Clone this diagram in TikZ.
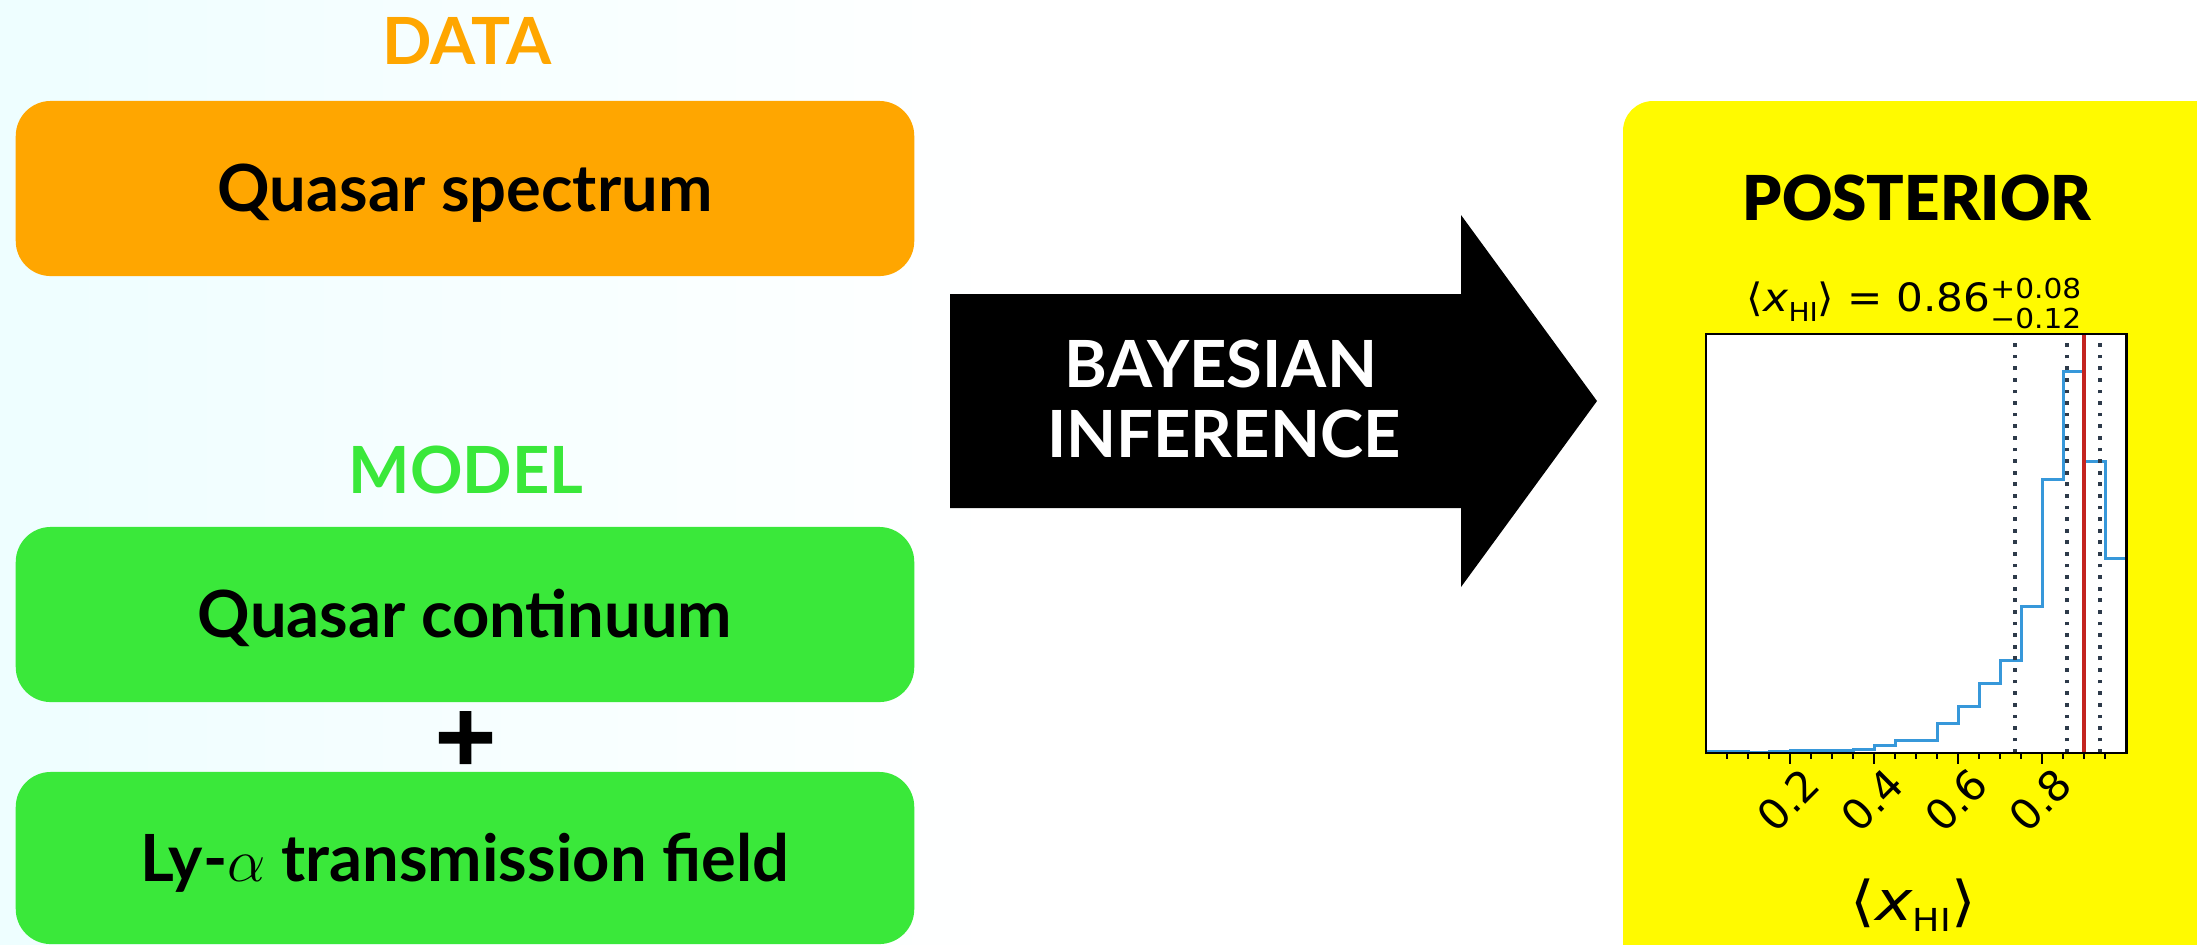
\documentclass[tikz,border=0pt]{standalone}
\usepackage{fontspec}
\setmainfont{Lato}
\newfontfamily\dvs{DejaVu Sans}
\newfontfamily\plusfont{DejaVu Sans Bold}[FakeBold=3]
\newfontfamily\latoblack{Lato Black}

\definecolor{dataorange}{RGB}{255,166,0}
\definecolor{modelgreen}{RGB}{58,232,58}
\definecolor{postyellow}{RGB}{255,250,0}
\definecolor{bgcyan}{RGB}{238,254,255}
\definecolor{histblue}{RGB}{55,152,218}
\definecolor{truered}{RGB}{196,36,31}
\definecolor{quantgray}{RGB}{45,58,74}

\tikzset{
  panel/.style={rounded corners=0.35cm, minimum width=8.98cm, minimum height=1.75cm,
    inner sep=0pt, text height=0.466cm, text depth=0pt,
    font=\fontsize{18.5}{22}\selectfont\bfseries},
  heading/.style={inner sep=0pt, anchor=base, font=\fontsize{18.5}{22}\selectfont\bfseries},
  ticklab/.style={inner sep=0pt, rotate=45, font=\dvs\fontsize{12}{14}\selectfont},
  quantile/.style={quantgray, line width=1.05pt, dash pattern=on 1.05pt off 2.25pt},
}

\begin{document}
\begin{tikzpicture}[x=0.01cm, y=-0.01cm]
\useasboundingbox (0,0) rectangle (2197,944);
\clip (0,0) rectangle (2197,944);

% background
\fill[white] (0,0) rectangle (2197,944);
\shade[left color=bgcyan, right color=white] (0,0) rectangle (1000,944);

% data and model inputs
\node[heading, text=dataorange] (datahead) at (467,64) {DATA};
\node[panel, fill=dataorange] (spec) at (465,188.5) {Quasar spectrum};
\node[heading, text=modelgreen] (modelhead) at (466,493) {MODEL};
\node[panel, fill=modelgreen] (cont) at (465,614.5) {Quasar continuum};
\node[inner sep=0pt, anchor=base, font=\plusfont\fontsize{23}{26}\selectfont] (plus) at (465.5,763) {+};
\node[panel, fill=modelgreen, minimum height=1.72cm] (lya) at (465,858) {Ly-$\alpha$ transmission field};

% inference arrow
\fill[black] (950,294) -- (1461,294) -- (1461,215) -- (1597,401) -- (1461,587) -- (1461,508) -- (950,508) -- cycle;
\node[heading, text=white] (bayes) at (1221,387) {BAYESIAN};
\node[heading, text=white] (infer) at (1224,457) {INFERENCE};

% posterior panel
\fill[postyellow, rounded corners=0.3cm] (1623,101) rectangle (2260,1000);
\node[heading, font=\latoblack\fontsize{17.6}{20}\selectfont] (posthead) at (1917,220) {POSTERIOR};

\node[inner sep=0pt, anchor=base] (posttitle) at (1914,311.7) {\scalebox{1.08}[1]{\dvs\fontsize{11.1}{13}\selectfont
  ⟨\textit{x}\raisebox{-2.9pt}{\fontsize{7.4}{8}\selectfont HI}⟩ = 0.86\raisebox{3.8pt}{\rlap{\fontsize{7.8}{9}\selectfont +0.08}}\raisebox{-4.7pt}{\fontsize{7.8}{9}\selectfont −0.12}}};

\node[inner sep=0pt, anchor=base] (xlab) at (1913,920) {\scalebox{1.15}[1]{\dvs\fontsize{15.6}{18}\selectfont
  ⟨\textit{x}\raisebox{-3.3pt}{\fontsize{9}{10}\selectfont HI}⟩}};

% histogram axes: x in [0,1], y as fraction of the axes height
\begin{scope}[shift={(1706,753)}, x=4.2cm, y=4.19cm]
  \fill[white] (0,0) rectangle (1,1);
  \begin{scope}
    \clip (0,0) rectangle (1,1);
    \draw[histblue, line width=0.85pt] plot[const plot] coordinates {
      (0,0.003) (0.05,0.004) (0.10,0.002) (0.15,0.003) (0.20,0.005) (0.25,0.005)
      (0.30,0.005) (0.35,0.008) (0.40,0.0175) (0.45,0.031) (0.50,0.031) (0.55,0.070)
      (0.60,0.111) (0.65,0.166) (0.70,0.220) (0.75,0.349) (0.80,0.652) (0.85,0.909)
      (0.90,0.695) (0.95,0.465) (1.0,0.465)};
    \foreach \q in {0.736,0.859,0.938}
      \draw[quantile] (\q,0) -- (\q,1);
    \draw[truered, line width=1pt] (0.899,0) -- (0.899,1);
  \end{scope}
  \draw[line width=0.7pt] (0,0) rectangle (1,1);
  \foreach \t in {0.05,0.10,0.15,0.25,0.30,0.35,0.45,0.50,0.55,0.65,0.70,0.75,0.85,0.90,0.95}
    \draw[line width=0.45pt] (\t,0) -- (\t,-0.0143);
  \foreach \t [count=\k] in {0.2,0.4,0.6,0.8} {
    \draw[line width=0.6pt] (\t,0) -- (\t,-0.0263);
    \node[ticklab] (ticklab\k) at (\t-0.005,-0.112) {\t};
  }
\end{scope}
\end{tikzpicture}
\end{document}
